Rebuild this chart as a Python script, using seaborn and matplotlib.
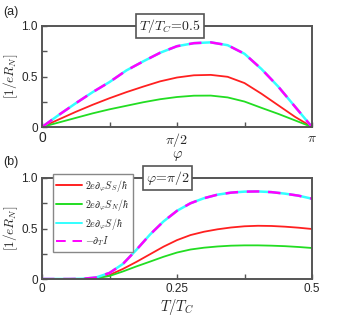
import numpy as np
import pandas as pd
import matplotlib
matplotlib.use("Agg")
import matplotlib.pyplot as plt
import seaborn as sns

# ---- data ----
phi_over_pi = [0, 0.0625, 0.125, 0.1875, 0.25, 0.3125, 0.375, 0.4375, 0.5,
               0.5625, 0.625, 0.6875, 0.75, 0.8125, 0.875, 0.9375, 1.0]
a_SS = [0, 0.075, 0.15, 0.22, 0.285, 0.345, 0.40, 0.452, 0.49,
        0.512, 0.516, 0.497, 0.435, 0.33, 0.215, 0.10, 0]
a_SN = [0, 0.045, 0.09, 0.135, 0.175, 0.21, 0.245, 0.275, 0.297,
        0.31, 0.311, 0.293, 0.252, 0.19, 0.13, 0.065, 0]
a_S = [0, 0.12, 0.235, 0.345, 0.445, 0.56, 0.65, 0.735, 0.80,
       0.83, 0.838, 0.81, 0.725, 0.575, 0.40, 0.20, 0]
a_I = a_S

T_over_Tc = [0, 0.025, 0.05, 0.075, 0.1, 0.125, 0.15, 0.175, 0.2, 0.225, 0.25,
             0.275, 0.3, 0.325, 0.35, 0.375, 0.4, 0.425, 0.45, 0.475, 0.5]
b_SS = [0, 0, 0, 0.001, 0.008, 0.04, 0.10, 0.17, 0.245, 0.32, 0.385,
        0.435, 0.468, 0.492, 0.51, 0.522, 0.527, 0.525, 0.518, 0.508, 0.495]
b_SN = [0, 0, 0, 0.001, 0.006, 0.03, 0.075, 0.125, 0.172, 0.22, 0.262,
        0.292, 0.31, 0.322, 0.33, 0.333, 0.333, 0.33, 0.325, 0.317, 0.307]
b_S = [0, 0, 0, 0.002, 0.015, 0.06, 0.15, 0.29, 0.44, 0.57, 0.675,
       0.75, 0.80, 0.835, 0.855, 0.865, 0.867, 0.86, 0.845, 0.825, 0.795]
b_I = b_S

labels = [r'$2e\partial_\varphi S_S/\hbar$', r'$2e\partial_\varphi S_N/\hbar$',
          r'$2e\partial_\varphi S/\hbar$', r'$-\partial_T I$']
y_ticks = [0, 0.5, 1.0]
y_ticklabels = ['0', '0.5', '1.0']
a_xticklabels = ['0', r'$\pi/2$', r'$\pi$']
b_xticks = [0, 0.25, 0.5]
b_xticklabels = ['0', '0.25', '0.5']

sns.set_style("ticks")
plt.rcParams['font.family'] = ['Liberation Sans', 'DejaVu Sans']
plt.rcParams['mathtext.fontset'] = 'cm'

SPINE = '#555555'
colors = ['#ff2020', '#22dd22', '#33ffff', '#ff00ff']

fig = plt.figure(figsize=(3.38, 3.19), dpi=100)
axA = fig.add_axes([42/338, 1-127/319, 270/338, 101/319])
axB = fig.add_axes([42/338, 1-279/319, 270/338, 101/319])


def draw(ax, x, series):
    for i, (y, c) in enumerate(zip(series, colors)):
        df = pd.DataFrame({'x': x, 'y': y})
        sns.lineplot(data=df, x='x', y='y', ax=ax, color=c,
                     lw=1.3 if i < 2 else 1.8, label=labels[i], sort=False)
        line = ax.lines[-1]
        line.set_solid_joinstyle('round')
        if i == 3:
            line.set_dashes([5, 3.5])


xa = np.array(phi_over_pi) * np.pi
draw(axA, xa, [a_SS, a_SN, a_S, a_I])
draw(axB, T_over_Tc, [b_SS, b_SN, b_S, b_I])

for ax in (axA, axB):
    ax.set_ylim(0, 1.0)
    ax.set_yticks(y_ticks)
    ax.set_yticklabels(y_ticklabels, fontsize=8.5)
    ax.set_yticks([0.25, 0.75], minor=True)
    ax.tick_params(which='both', direction='in', color=SPINE, width=1.0,
                   labelsize=8.5, pad=3, length=3.5)
    for s in ax.spines.values():
        s.set_color(SPINE)
        s.set_linewidth(1.4)
    ax.set_ylabel(r'$[1/eR_N]$', fontsize=9.5)
    ax.yaxis.set_label_coords(-0.082, 0.5)

axA.set_xlim(0, np.pi)
axA.set_xticks([0, np.pi/2, np.pi])
axA.set_xticklabels(a_xticklabels, fontsize=10)
axA.set_xticks([np.pi/4, 3*np.pi/4], minor=True)
axA.set_xlabel(r'$\varphi$', fontsize=10.5, labelpad=0)
axA.get_legend().remove()

axB.set_xlim(0, 0.5)
axB.set_xticks(b_xticks)
axB.set_xticklabels(b_xticklabels, fontsize=8.5)
axB.set_xticks([0.125, 0.375], minor=True)
axB.set_xlabel(r'$T/T_C$', fontsize=10.5, labelpad=1)

leg = axB.legend(loc='upper left', bbox_to_anchor=(0.04, 1.035), borderaxespad=0,
                 fontsize=7.2, frameon=True, fancybox=False, framealpha=1,
                 edgecolor='#888888', handlelength=2.6, handletextpad=0.3,
                 borderpad=0.35, labelspacing=0.3)
leg.get_frame().set_linewidth(1.0)
for h in leg.get_lines():
    h.set_linewidth(1.4)
leg.get_lines()[3].set_dashes([5, 3.5])

box = dict(boxstyle='square,pad=0.2', fc='white', ec=SPINE, lw=1.2)
axA.text(0.474, 1.0, r'$T/T_C\!=\!0.5$', transform=axA.transAxes, ha='center',
         va='center', fontsize=10, bbox=box, zorder=10)
axB.text(0.465, 1.0, r'$\varphi\!=\!\pi/2$', transform=axB.transAxes, ha='center',
         va='center', fontsize=10, bbox=box, zorder=10)

fig.text(3/338, 1-12/319, '(a)', fontsize=9, va='center', ha='left')
fig.text(3/338, 1-162/319, '(b)', fontsize=9, va='center', ha='left')

fig.savefig('out.png', dpi=100)
